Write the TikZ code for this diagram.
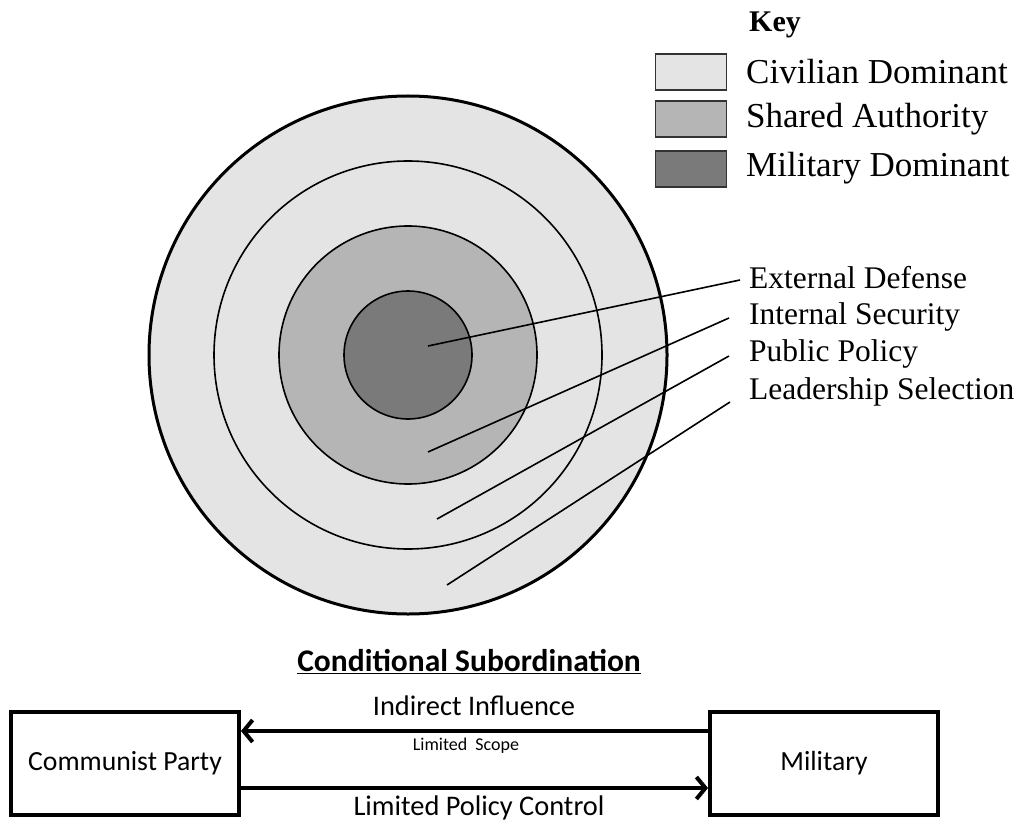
\documentclass[tikz,border=0pt]{standalone}
\usepackage{fontspec}
\setmainfont{Liberation Serif}
\newfontfamily\calib{Carlito}
\usetikzlibrary{arrows.meta}
\definecolor{civ}{HTML}{E4E4E4}
\definecolor{shr}{HTML}{B5B5B5}
\definecolor{mil}{HTML}{7A7A7A}
\begin{document}
\begin{tikzpicture}[x=1pt,y=-1pt,
  ring/.style={circle, draw=black, inner sep=0pt, line width=1.6pt},
  keybox/.style={draw=black!80, line width=1.8pt, minimum width=71pt, minimum height=36pt, inner sep=0pt},
  keytext/.style={anchor=west, font=\fontsize{35}{37}\selectfont, inner sep=0pt},
  lbl/.style={anchor=west, font=\fontsize{31.5}{33}\selectfont, inner sep=0pt},
  leader/.style={line width=1.6pt},
  bigbox/.style={draw=black, line width=4pt, minimum width=228pt, minimum height=103pt, inner sep=0pt, font=\calib\fontsize{27.7}{29}\selectfont},
  arr/.style={line width=4pt, -{Straight Barb[length=9pt,width=22pt]}},
  ctext/.style={font=\calib\fontsize{28.4}{30}\selectfont, inner sep=0pt}
]
\useasboundingbox[fill=white] (0,0) rectangle (1024,826);

% concentric rings
\node[ring, line width=3pt, fill=civ, minimum size=518pt] (outer) at (408,355) {};
\node[ring, fill=civ, minimum size=388pt] (second) at (408,355) {};
\node[ring, fill=shr, minimum size=258pt] (third) at (408,355) {};
\node[ring, fill=mil, minimum size=128pt] (inner) at (408,355) {};

% key
\node[anchor=west, inner sep=0pt, font=\bfseries\fontsize{30}{32}\selectfont] (keyt) at (749,25) {Key};
\node[keybox, fill=civ] (k1) at (691,72) {};
\node[keybox, fill=shr] (k2) at (691,119) {};
\node[keybox, fill=mil] (k3) at (691,169) {};
\node[keytext] (k1t) at (746,72) {Civilian Dominant};
\node[keytext] (k2t) at (746,119) {Shared Authority};
\node[keytext] (k3t) at (746,168) {Military Dominant};

% labels
\node[lbl] (ext) at (749,278) {External Defense};
\node[lbl] (ins) at (749,317) {Internal Security};
\node[lbl] (pub) at (749,354) {Public Policy};
\node[lbl] (lead) at (749,392) {Leadership Selection};

\coordinate (extEnd) at (740,280);
\coordinate (insEnd) at (729,318);
\coordinate (pubEnd) at (729,356);
\coordinate (leadEnd) at (730,402);
\coordinate (extStart) at (428,346);
\coordinate (insStart) at (428,452);
\coordinate (pubStart) at (437,519);
\coordinate (leadStart) at (447,585);
\draw[leader] (extStart) -- (extEnd);
\draw[leader] (insStart) -- (insEnd);
\draw[leader] (pubStart) -- (pubEnd);
\draw[leader] (leadStart) -- (leadEnd);

% bottom
\node[inner sep=0pt, font=\calib\bfseries\fontsize{31.5}{33}\selectfont] (title) at (469,662) {\underline{Conditional Subordination}};
\node[bigbox] (cp) at (125,763.5) {Communist Party};
\node[bigbox] (milb) at (824,763.5) {Military};
\draw[arr] ([yshift=32.5pt]milb.west) -- ([yshift=32.5pt]cp.east);
\draw[arr] ([yshift=-24.5pt]cp.east) -- ([yshift=-24.5pt]milb.west);
\node[ctext] (ii) at (474,706) {Indirect Influence};
\node[ctext, font=\calib\fontsize{18}{20}\selectfont] (ls) at (466,746) {Limited\ \ Scope};
\node[ctext] (lpc) at (479,808) {Limited Policy Control};
\end{tikzpicture}
\end{document}
